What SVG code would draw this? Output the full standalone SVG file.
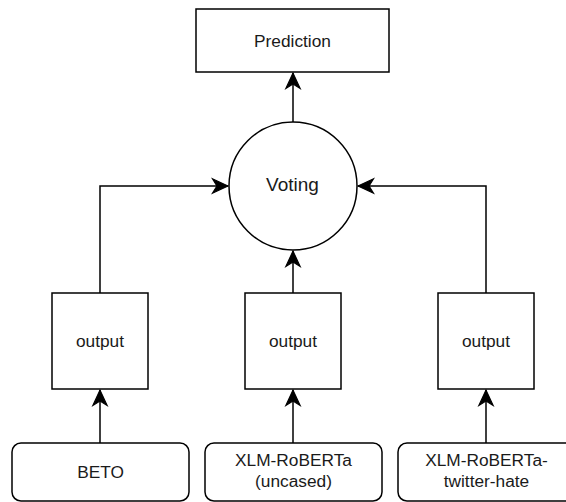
<svg xmlns="http://www.w3.org/2000/svg" width="566" height="502" viewBox="0 0 566 502">
<style>
.box{fill:#fff;stroke:#000;stroke-width:1.5}
.t{font-family:"Liberation Sans",Arial,sans-serif;font-size:17.3px;fill:#1a1a1a;text-anchor:middle}
.big{font-size:19px}
.c{fill:none;stroke:#000;stroke-width:1.5}
</style>
<defs>
<marker id="ah" markerUnits="userSpaceOnUse" markerWidth="20" markerHeight="20" viewBox="-16 -8 18 16" refX="0" refY="0" orient="auto">
<path d="M0,0 L-14,-6.5 L-10,0 L-14,6.5 Z" fill="#000" stroke="#000" stroke-width="1"/>
</marker>
</defs>
<rect width="566" height="502" fill="#fff"/>
<g id="connectors">
<path class="c" d="M293,122 L293,73" marker-end="url(#ah)"/>
<path class="c" d="M100,293 L100,186 L228,186" marker-end="url(#ah)"/>
<path class="c" d="M486,293 L486,186 L358,186" marker-end="url(#ah)"/>
<path class="c" d="M293,293 L293,251" marker-end="url(#ah)"/>
<path class="c" d="M100,443 L100,390" marker-end="url(#ah)"/>
<path class="c" d="M293,443 L293,390" marker-end="url(#ah)"/>
<path class="c" d="M486,443 L486,390" marker-end="url(#ah)"/>
</g>
<g id="prediction">
<rect class="box" x="196" y="9" width="193" height="63"/>
<text class="t" x="292.5" y="47">Prediction</text>
</g>
<g id="voting">
<circle class="box" cx="293" cy="186" r="64"/>
<text class="t big" x="292.5" y="191">Voting</text>
</g>
<g id="output1">
<rect class="box" x="52" y="293" width="96" height="96"/>
<text class="t" x="100" y="347">output</text>
</g>
<g id="output2">
<rect class="box" x="245" y="293" width="96" height="96"/>
<text class="t" x="293" y="347">output</text>
</g>
<g id="output3">
<rect class="box" x="438" y="293" width="96" height="96"/>
<text class="t" x="486" y="347">output</text>
</g>
<g id="beto">
<rect class="box" x="12" y="443" width="177" height="58" rx="9"/>
<text class="t" x="100.5" y="477.5">BETO</text>
</g>
<g id="xlmr">
<rect class="box" x="205" y="443" width="177" height="58" rx="9"/>
<text class="t" x="293.5" y="466">XLM-RoBERTa</text>
<text class="t" x="293.5" y="487">(uncased)</text>
</g>
<g id="xlmr-hate">
<rect class="box" x="398" y="443" width="177" height="58" rx="9"/>
<text class="t" x="486.5" y="466">XLM-RoBERTa-</text>
<text class="t" x="486.5" y="487">twitter-hate</text>
</g>
</svg>
